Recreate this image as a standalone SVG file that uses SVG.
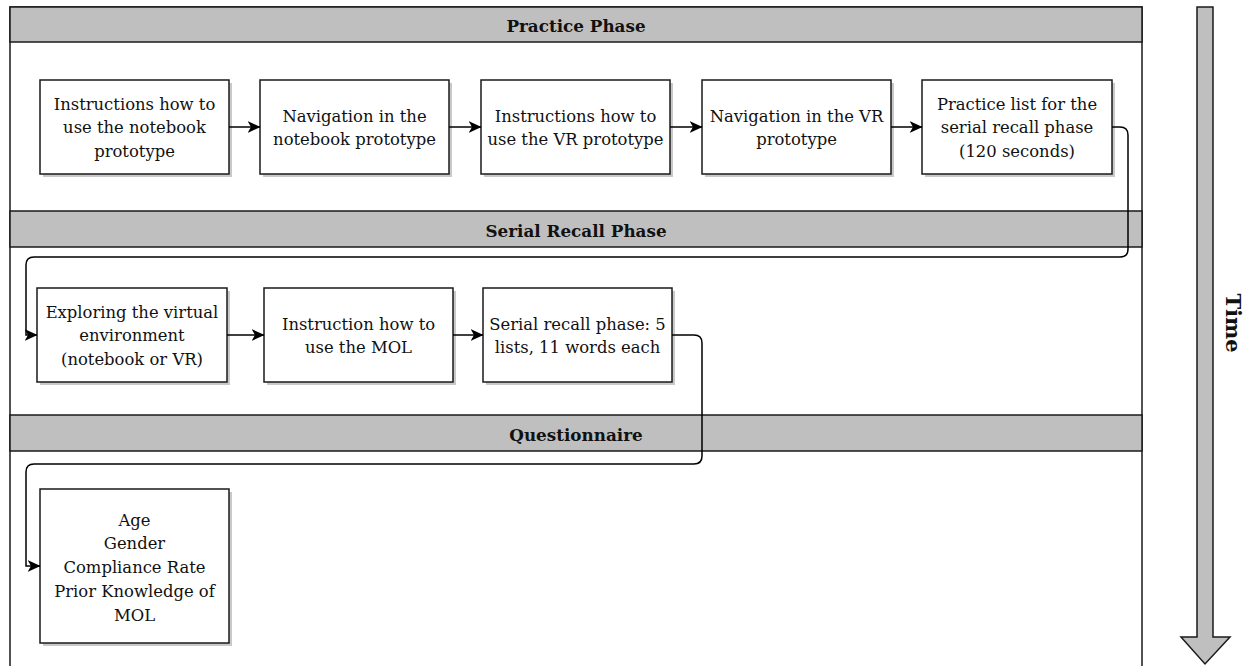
<svg xmlns="http://www.w3.org/2000/svg" width="1246" height="666" viewBox="0 0 1246 666">
<style>
.lane{fill:#ffffff;stroke:#1a1a1a;stroke-width:1.5}
.hdr{fill:#bfbfbf;stroke:#1a1a1a;stroke-width:1.5}
.htxt{font-family:"DejaVu Serif","Liberation Serif",serif;font-weight:bold;font-size:16.8px;fill:#111;text-anchor:middle}
.box{fill:#ffffff;stroke:#1a1a1a;stroke-width:1.5}
.shd{fill:#c9c9c9}
.t{font-family:"DejaVu Serif","Liberation Serif",serif;font-size:16.4px;fill:#111;text-anchor:middle}
.con{fill:none;stroke:#000;stroke-width:1.5}
</style>
<defs>
<marker id="ah" viewBox="0 0 13 12" refX="12.5" refY="6" markerWidth="13" markerHeight="12" markerUnits="userSpaceOnUse" orient="auto">
<path d="M0,0 L13,6 L0,12 L3.5,6 Z" fill="#000"/>
</marker>
</defs>
<rect width="1246" height="666" fill="#ffffff"/>
<g id="lanes">
<rect class="lane" x="10" y="7" width="1132" height="680"/>
<rect class="hdr" x="10" y="7" width="1132" height="35"/>
<text class="htxt" x="576" y="32">Practice Phase</text>
<rect class="hdr" x="10" y="211" width="1132" height="36"/>
<text class="htxt" x="576" y="237">Serial Recall Phase</text>
<rect class="hdr" x="10" y="415" width="1132" height="36"/>
<text class="htxt" x="576" y="441">Questionnaire</text>
</g>
<g id="n1"><rect class="shd" x="43" y="83" width="189" height="94"/><rect class="box" x="40" y="80" width="189" height="94"/>
<text class="t" x="134.5"><tspan x="134.5" y="110">Instructions how to</tspan><tspan x="134.5" y="133">use the notebook</tspan><tspan x="134.5" y="157">prototype</tspan></text></g>
<g id="n2"><rect class="shd" x="263" y="83" width="189" height="94"/><rect class="box" x="260" y="80" width="189" height="94"/>
<text class="t"><tspan x="354.5" y="122">Navigation in the</tspan><tspan x="354.5" y="145">notebook prototype</tspan></text></g>
<g id="n3"><rect class="shd" x="484" y="83" width="189" height="94"/><rect class="box" x="481" y="80" width="189" height="94"/>
<text class="t"><tspan x="575.5" y="122">Instructions how to</tspan><tspan x="575.5" y="145">use the VR prototype</tspan></text></g>
<g id="n4"><rect class="shd" x="705" y="83" width="189" height="94"/><rect class="box" x="702" y="80" width="189" height="94"/>
<text class="t"><tspan x="796.5" y="122">Navigation in the VR</tspan><tspan x="796.5" y="145">prototype</tspan></text></g>
<g id="n5"><rect class="shd" x="925" y="83" width="190" height="94"/><rect class="box" x="922" y="80" width="190" height="94"/>
<text class="t"><tspan x="1017" y="110">Practice list for the</tspan><tspan x="1017" y="133">serial recall phase</tspan><tspan x="1017" y="157">(120 seconds)</tspan></text></g>
<g id="n6"><rect class="shd" x="40" y="291" width="190" height="94"/><rect class="box" x="37" y="288" width="190" height="94"/>
<text class="t"><tspan x="132" y="318">Exploring the virtual</tspan><tspan x="132" y="341">environment</tspan><tspan x="132" y="365">(notebook or VR)</tspan></text></g>
<g id="n7"><rect class="shd" x="267" y="291" width="189" height="94"/><rect class="box" x="264" y="288" width="189" height="94"/>
<text class="t"><tspan x="358.5" y="330">Instruction how to</tspan><tspan x="358.5" y="353">use the MOL</tspan></text></g>
<g id="n8"><rect class="shd" x="486" y="291" width="189" height="94"/><rect class="box" x="483" y="288" width="189" height="94"/>
<text class="t"><tspan x="577.5" y="330">Serial recall phase: 5</tspan><tspan x="577.5" y="353">lists, 11 words each</tspan></text></g>
<g id="n9"><rect class="shd" x="43" y="492" width="189" height="154"/><rect class="box" x="40" y="489" width="189" height="154"/>
<text class="t"><tspan x="134.5" y="526">Age</tspan><tspan x="134.5" y="549">Gender</tspan><tspan x="134.5" y="573">Compliance Rate</tspan><tspan x="134.5" y="597">Prior Knowledge of</tspan><tspan x="134.5" y="621">MOL</tspan></text></g>
<g id="connectors">
<path class="con" d="M229,127 L260,127" marker-end="url(#ah)"/>
<path class="con" d="M449,127 L481,127" marker-end="url(#ah)"/>
<path class="con" d="M670,127 L702,127" marker-end="url(#ah)"/>
<path class="con" d="M891,127 L922,127" marker-end="url(#ah)"/>
<path class="con" d="M1112,127 L1120,127 Q1128,127 1128,135 L1128,249 Q1128,257 1120,257 L34,257 Q26,257 26,265 L26,335 L37,335" marker-end="url(#ah)"/>
<path class="con" d="M227,335 L264,335" marker-end="url(#ah)"/>
<path class="con" d="M453,335 L483,335" marker-end="url(#ah)"/>
<path class="con" d="M672,335 L694,335 Q702,335 702,343 L702,456 Q702,464 694,464 L34,464 Q26,464 26,472 L26,566 L40,566" marker-end="url(#ah)"/>
</g>
<g id="time">
<path d="M1197,7 L1213,7 L1213,637 L1230,637 L1205,664 L1181,637 L1197,637 Z" fill="#bfbfbf" stroke="#1a1a1a" stroke-width="1.5"/>
<text class="htxt" style="font-size:21px" transform="translate(1226,323) rotate(90)" x="0" y="0">Time</text>
</g>
</svg>
